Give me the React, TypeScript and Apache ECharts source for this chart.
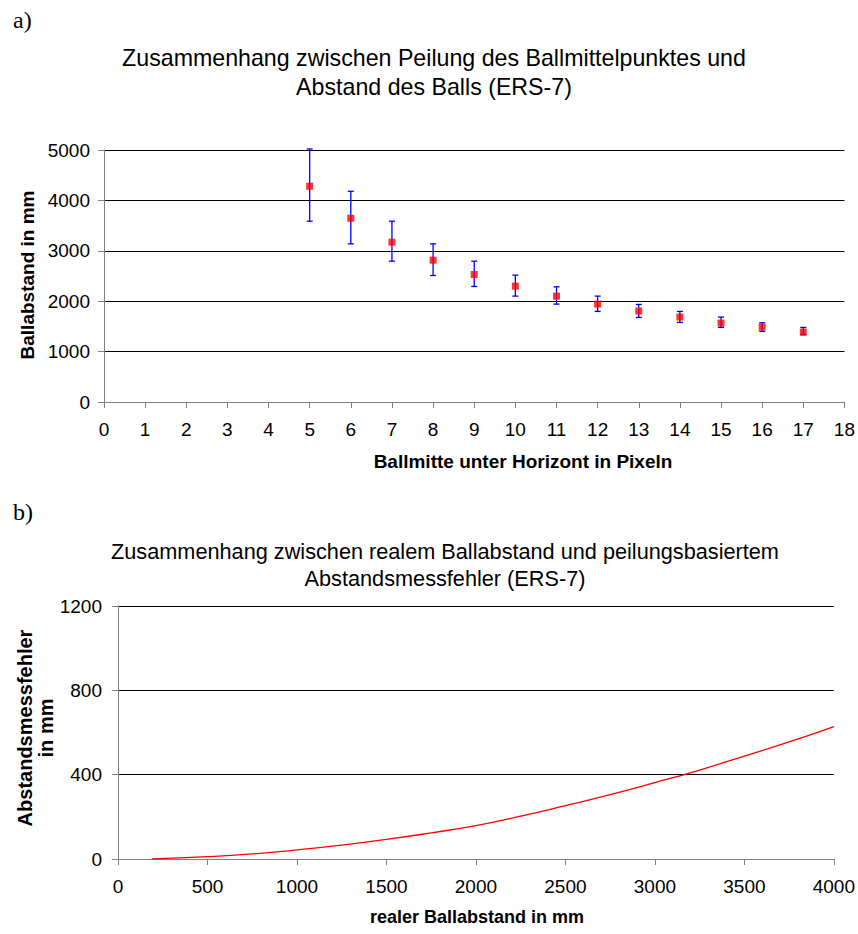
import React, { useEffect, useRef } from "react";
import * as echarts from "echarts";

// ---- Chart a) data ----
const pixelRows = [5, 6, 7, 8, 9, 10, 11, 12, 13, 14, 15, 16, 17];
const ballDistance = [4281, 3646, 3171, 2814, 2530, 2299, 2101, 1942, 1804, 1685, 1566, 1487, 1388];
const errHigh = [5020, 4181, 3587, 3138, 2794, 2517, 2286, 2101, 1936, 1797, 1685, 1573, 1480];
const errLow = [3587, 3138, 2794, 2510, 2292, 2101, 1942, 1797, 1678, 1579, 1480, 1401, 1335];

// ---- Chart b) data ----
const realDistance = [190, 500, 750, 1000, 1250, 1500, 1750, 2000, 2250, 2500, 2750, 3000, 3250, 3500, 3750, 4000];
const measureError = [1, 11, 24, 43, 66, 93, 124, 158, 203, 253, 305, 362, 422, 488, 555, 628];

const FONT = "'Liberation Sans', Arial, sans-serif";
const AXIS_GRAY = "#808080";

export default function App() {
  const ref = useRef<HTMLDivElement>(null);

  useEffect(() => {
    if (!ref.current) return;
    const chart = echarts.init(ref.current, undefined, { renderer: "svg" });

    const errData = pixelRows.map((p, i) => [p, errLow[i], errHigh[i]]);
    const markerData = pixelRows.map((p, i) => [p, ballDistance[i]]);
    const curveData = realDistance.map((d, i) => [d, measureError[i]]);

    const plain = (v: number) => String(v);
    const labelBase = { color: "#000", fontSize: 19, fontFamily: FONT, formatter: plain };

    const axisCommon = {
      type: "value" as const,
      axisLine: { show: true, lineStyle: { color: AXIS_GRAY, width: 1 } },
      axisTick: { show: true, length: 6, lineStyle: { color: AXIS_GRAY, width: 1 } },
    };

    const option: any = {
      animation: false,
      backgroundColor: "#fff",
      grid: [
        { left: 104, top: 150, width: 742, height: 252 },
        { left: 118, top: 606, width: 717, height: 253 },
      ],
      xAxis: [
        {
          ...axisCommon,
          gridIndex: 0,
          min: 0,
          max: 18,
          interval: 1,
          splitLine: { show: false },
          axisLabel: { ...labelBase, margin: 18 },
        },
        {
          ...axisCommon,
          gridIndex: 1,
          min: 0,
          max: 4000,
          interval: 500,
          splitLine: { show: false },
          axisLabel: { ...labelBase, margin: 18 },
        },
      ],
      yAxis: [
        {
          ...axisCommon,
          gridIndex: 0,
          min: 0,
          max: 5000,
          interval: 1000,
          splitLine: { show: true, lineStyle: { color: "#000", width: 1 } },
          axisLabel: { ...labelBase, margin: 14 },
        },
        {
          ...axisCommon,
          gridIndex: 1,
          min: 0,
          max: 1200,
          interval: 400,
          splitLine: { show: true, lineStyle: { color: "#000", width: 1 } },
          axisLabel: { ...labelBase, margin: 16 },
        },
      ],
      series: [
        {
          type: "custom",
          xAxisIndex: 0,
          yAxisIndex: 0,
          data: errData,
          encode: { x: 0, y: [1, 2] },
          z: 3,
          renderItem: (params: any, api: any) => {
            const x = api.value(0);
            const lo = api.coord([x, api.value(1)]);
            const hi = api.coord([x, api.value(2)]);
            const hw = 3;
            const st = { stroke: "#0000ff", lineWidth: 1.3 };
            return {
              type: "group",
              children: [
                { type: "line", shape: { x1: hi[0], y1: hi[1], x2: lo[0], y2: lo[1] }, style: st },
                { type: "line", shape: { x1: hi[0] - hw, y1: hi[1], x2: hi[0] + hw, y2: hi[1] }, style: st },
                { type: "line", shape: { x1: lo[0] - hw, y1: lo[1], x2: lo[0] + hw, y2: lo[1] }, style: st },
              ],
            };
          },
        },
        {
          type: "scatter",
          xAxisIndex: 0,
          yAxisIndex: 0,
          data: markerData,
          symbol: "rect",
          symbolSize: 7,
          itemStyle: { color: "#ff0000" },
          z: 4,
        },
        {
          type: "line",
          xAxisIndex: 1,
          yAxisIndex: 1,
          data: curveData,
          smooth: true,
          showSymbol: false,
          lineStyle: { color: "#ff0000", width: 1.3 },
        },
      ],
      graphic: [
        {
          type: "text",
          x: 13,
          y: 20,
          style: { text: "a)", font: "24px 'Liberation Serif', 'DejaVu Serif', serif", fill: "#000", verticalAlign: "middle" },
        },
        {
          type: "text",
          x: 13,
          y: 512,
          style: { text: "b)", font: "24px 'Liberation Serif', 'DejaVu Serif', serif", fill: "#000", verticalAlign: "middle" },
        },
        {
          type: "text",
          x: 434,
          y: 72,
          style: {
            text: "Zusammenhang zwischen Peilung des Ballmittelpunktes und\nAbstand des Balls (ERS-7)",
            font: `23.2px ${FONT}`,
            lineHeight: 29,
            fill: "#000",
            align: "center",
            verticalAlign: "middle",
          },
        },
        {
          type: "text",
          x: 445,
          y: 565,
          style: {
            text: "Zusammenhang zwischen realem Ballabstand und peilungsbasiertem\nAbstandsmessfehler (ERS-7)",
            font: `21.7px ${FONT}`,
            lineHeight: 27,
            fill: "#000",
            align: "center",
            verticalAlign: "middle",
          },
        },
        {
          type: "text",
          x: 27,
          y: 275,
          rotation: Math.PI / 2,
          style: {
            text: "Ballabstand in mm",
            font: `bold 19px ${FONT}`,
            fill: "#000",
            align: "center",
            verticalAlign: "middle",
          },
        },
        {
          type: "text",
          x: 523,
          y: 461,
          style: {
            text: "Ballmitte unter Horizont in Pixeln",
            font: `bold 19px ${FONT}`,
            fill: "#000",
            align: "center",
            verticalAlign: "middle",
          },
        },
        {
          type: "text",
          x: 35,
          y: 728,
          rotation: Math.PI / 2,
          style: {
            text: "Abstandsmessfehler\nin mm",
            font: `bold 20px ${FONT}`,
            lineHeight: 21,
            fill: "#000",
            align: "center",
            verticalAlign: "middle",
          },
        },
        {
          type: "text",
          x: 477,
          y: 917,
          style: {
            text: "realer Ballabstand in mm",
            font: `bold 18px ${FONT}`,
            fill: "#000",
            align: "center",
            verticalAlign: "middle",
          },
        },
      ],
    };

    chart.setOption(option);
    return () => chart.dispose();
  }, []);

  return (
    <div
      ref={ref}
      style={{ position: "absolute", left: 0, top: 0, width: 858, height: 934, background: "#fff" }}
    />
  );
}
